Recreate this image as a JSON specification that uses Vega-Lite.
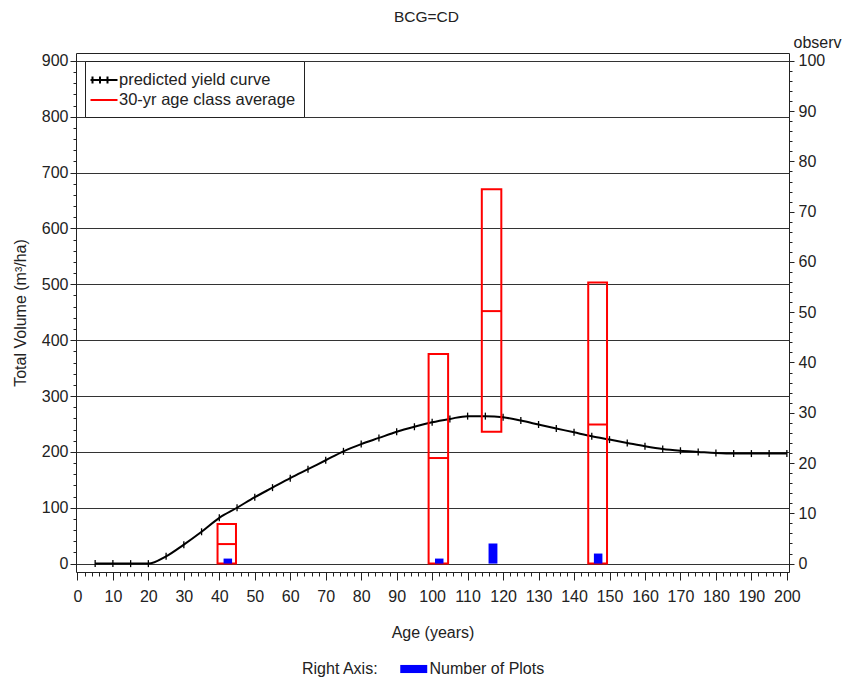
{
  "$schema": "https://vega.github.io/schema/vega-lite/v6.json",
  "width": 713,
  "height": 519,
  "autosize": {"type": "none"},
  "padding": {"left": 76, "top": 53, "right": 58, "bottom": 106},
  "title": {"text": "BCG=CD", "fontSize": 15.5, "fontWeight": "normal", "color": "#222", "anchor": "middle", "frame": "group", "offset": 9, "dx": -6},
  "config": {
    "font": "Liberation Sans",
    "view": {"stroke": "#222", "strokeWidth": 1},
    "axis": {"labelFontSize": 16, "labelColor": "#222", "titleFontSize": 16, "titleFontWeight": "normal", "titleColor": "#222", "tickColor": "#222", "labelOverlap": false, "labelFlush": false}
  },
  "datasets": {
    "yield": [
      {"age": 5, "vol": 0}, {"age": 10, "vol": 0}, {"age": 15, "vol": 0}, {"age": 20, "vol": 0},
      {"age": 25, "vol": 13}, {"age": 30, "vol": 34}, {"age": 35, "vol": 57}, {"age": 40, "vol": 82},
      {"age": 45, "vol": 100}, {"age": 50, "vol": 119}, {"age": 55, "vol": 136}, {"age": 60, "vol": 153},
      {"age": 65, "vol": 169}, {"age": 70, "vol": 185}, {"age": 75, "vol": 201}, {"age": 80, "vol": 214},
      {"age": 85, "vol": 225}, {"age": 90, "vol": 236}, {"age": 95, "vol": 245}, {"age": 100, "vol": 253},
      {"age": 105, "vol": 259}, {"age": 110, "vol": 264}, {"age": 115, "vol": 264}, {"age": 120, "vol": 262},
      {"age": 125, "vol": 256}, {"age": 130, "vol": 249}, {"age": 135, "vol": 242}, {"age": 140, "vol": 235},
      {"age": 145, "vol": 228}, {"age": 150, "vol": 222}, {"age": 155, "vol": 216}, {"age": 160, "vol": 210},
      {"age": 165, "vol": 205}, {"age": 170, "vol": 202}, {"age": 175, "vol": 200}, {"age": 180, "vol": 198},
      {"age": 185, "vol": 197}, {"age": 190, "vol": 197}, {"age": 195, "vol": 197}, {"age": 200, "vol": 197}
    ],
    "boxes": [
      {"x1": 39.5, "x2": 44.7, "lo": 0, "mean": 35, "hi": 71},
      {"x1": 99, "x2": 104.5, "lo": 0, "mean": 189, "hi": 375},
      {"x1": 114, "x2": 119.5, "lo": 236, "mean": 452, "hi": 670},
      {"x1": 144, "x2": 149.3, "lo": 0, "mean": 249, "hi": 503}
    ],
    "plots": [
      {"x1": 41.2, "x2": 43.6, "n": 1},
      {"x1": 100.8, "x2": 103.2, "n": 1},
      {"x1": 115.9, "x2": 118.4, "n": 4},
      {"x1": 145.6, "x2": 148, "n": 2}
    ]
  },
  "layer": [
    {
      "layer": [
        {
          "data": {"name": "yield"},
          "mark": {"type": "line", "strokeWidth": 2, "interpolate": "monotone"},
          "encoding": {
            "x": {"field": "age", "type": "quantitative", "scale": {"domain": [-0.4, 200.6], "nice": false, "zero": false},
              "axis": {"values": [0,2,4,6,8,10,12,14,16,18,20,22,24,26,28,30,32,34,36,38,40,42,44,46,48,50,52,54,56,58,60,62,64,66,68,70,72,74,76,78,80,82,84,86,88,90,92,94,96,98,100,102,104,106,108,110,112,114,116,118,120,122,124,126,128,130,132,134,136,138,140,142,144,146,148,150,152,154,156,158,160,162,164,166,168,170,172,174,176,178,180,182,184,186,188,190,192,194,196,198,200],
                "tickCount": 1000, "format": "d",
                "labelExpr": "datum.value % 10 === 0 ? datum.label : ''",
                "tickSize": {"condition": {"test": "datum.value % 10 === 0", "value": 8}, "value": 4},
                "grid": false, "domain": false, "labelPadding": 8, "title": "Age (years)", "titlePadding": 20}},
            "y": {"field": "vol", "type": "quantitative", "scale": {"domain": [-15, 914], "nice": false, "zero": false},
              "axis": {"values": [0,20,40,60,80,100,120,140,160,180,200,220,240,260,280,300,320,340,360,380,400,420,440,460,480,500,520,540,560,580,600,620,640,660,680,700,720,740,760,780,800,820,840,860,880,900],
                "tickCount": 1000, "format": "d",
                "labelExpr": "datum.value % 100 === 0 ? datum.label : ''",
                "tickSize": {"condition": {"test": "datum.value % 100 === 0", "value": 6}, "value": 3},
                "grid": true, "gridColor": "#333",
                "gridOpacity": {"condition": {"test": "datum.value % 100 === 0", "value": 1}, "value": 0},
                "domain": false, "labelPadding": 2, "title": "Total Volume (m³/ha)", "titlePadding": 13}},
            "color": {"datum": "predicted yield curve", "type": "nominal",
              "scale": {"domain": ["predicted yield curve", "30-yr age class average"], "range": ["#000000", "#ff0000"]},
              "legend": {"orient": "none", "legendX": 9, "legendY": 8, "title": null, "padding": 8,
                "strokeColor": "#222", "fillColor": "white", "symbolSize": 400, "symbolType": "stroke",
                "symbolStrokeWidth": 2, "labelFontSize": 16.5, "labelColor": "#222", "labelOffset": 4, "rowPadding": 0, "labelLimit": 400,
                "encode": {"symbols": {"update": {
                  "shape": {"signal": "datum.value === 'predicted yield curve' ? 'M-1.35,0H1.35M-1.15,-0.35V0.35M-0.4,-0.35V0.35M0.35,-0.35V0.35' : 'M-1.35,0H1.35'"},
                  "stroke": {"signal": "datum.value === 'predicted yield curve' ? '#000000' : '#ff0000'"}}}}}}
          }
        },
        {
          "data": {"name": "yield"},
          "mark": {"type": "point", "shape": "M0,-1V1", "size": 49, "filled": false, "stroke": "#000000", "strokeWidth": 1.3, "opacity": 1},
          "encoding": {
            "x": {"field": "age", "type": "quantitative", "scale": {"domain": [-0.4, 200.6], "nice": false, "zero": false}},
            "y": {"field": "vol", "type": "quantitative", "scale": {"domain": [-15, 914], "nice": false, "zero": false}}
          }
        },
        {
          "data": {"name": "boxes"},
          "mark": {"type": "rect", "filled": false, "strokeWidth": 2},
          "encoding": {
            "x": {"field": "x1", "type": "quantitative", "scale": {"domain": [-0.4, 200.6], "nice": false, "zero": false}},
            "x2": {"field": "x2"},
            "y": {"field": "lo", "type": "quantitative", "scale": {"domain": [-15, 914], "nice": false, "zero": false}},
            "y2": {"field": "hi"},
            "color": {"datum": "30-yr age class average", "type": "nominal",
              "scale": {"domain": ["predicted yield curve", "30-yr age class average"], "range": ["#000000", "#ff0000"]}}
          }
        },
        {
          "data": {"name": "boxes"},
          "mark": {"type": "rule", "color": "#ff0000", "strokeWidth": 2},
          "encoding": {
            "x": {"field": "x1", "type": "quantitative", "scale": {"domain": [-0.4, 200.6], "nice": false, "zero": false}},
            "x2": {"field": "x2"},
            "y": {"field": "mean", "type": "quantitative", "scale": {"domain": [-15, 914], "nice": false, "zero": false}}
          }
        }
      ]
    },
    {
      "data": {"name": "plots"},
      "mark": {"type": "bar"},
      "encoding": {
        "x": {"field": "x1", "type": "quantitative", "scale": {"domain": [-0.4, 200.6], "nice": false, "zero": false}},
        "x2": {"field": "x2"},
        "y": {"field": "n", "type": "quantitative", "scale": {"domain": [-1.67, 101.56], "nice": false, "zero": false},
          "axis": {"orient": "right", "values": [0,2,4,6,8,10,12,14,16,18,20,22,24,26,28,30,32,34,36,38,40,42,44,46,48,50,52,54,56,58,60,62,64,66,68,70,72,74,76,78,80,82,84,86,88,90,92,94,96,98,100],
            "tickCount": 1000, "format": "d",
            "labelExpr": "datum.value % 10 === 0 ? datum.label : ''",
            "tickSize": {"condition": {"test": "datum.value % 10 === 0", "value": 5}, "value": 3},
            "grid": false, "domain": false, "labelPadding": 4,
            "title": "observ", "titleAngle": 0, "titleAlign": "left", "titleBaseline": "middle", "titleX": 4, "titleY": -11}},
        "y2": {"datum": 0},
        "color": {"datum": "Number of Plots", "type": "nominal", "scale": {"range": ["#0000ff"]},
          "legend": {"orient": "none", "legendX": 226, "legendY": 608, "title": "Right Axis:", "titleOrient": "left",
            "titleAnchor": "middle", "titleBaseline": "middle",
            "titleFontSize": 16, "titleFontWeight": "normal", "titleColor": "#222", "titlePadding": 26.75,
            "symbolType": "M-2,-0.6H2V0.6H-2Z", "symbolSize": 182, "symbolStrokeWidth": 0,
            "labelFontSize": 16, "labelColor": "#222", "labelOffset": 7.75, "padding": 0}}
      }
    }
  ],
  "resolve": {"scale": {"y": "independent", "color": "independent"}}
}
